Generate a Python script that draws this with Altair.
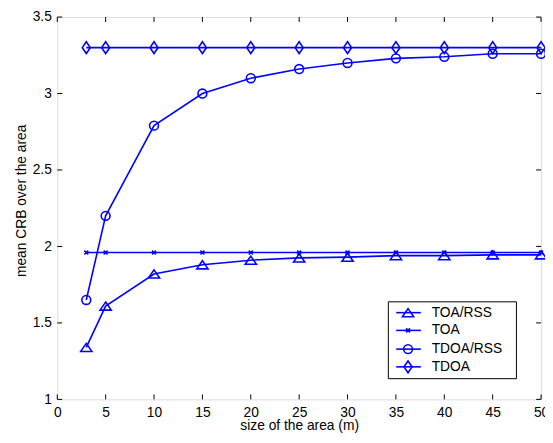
import altair as alt
import pandas as pd

# ---- data ----
sizes = [3, 5, 10, 15, 20, 25, 30, 35, 40, 45, 50]
toa_rss = [1.34, 1.61, 1.82, 1.88, 1.91, 1.925, 1.93, 1.94, 1.94, 1.945, 1.945]
toa = [1.96, 1.96, 1.96, 1.96, 1.96, 1.96, 1.96, 1.96, 1.96, 1.96, 1.96]
tdoa_rss = [1.65, 2.2, 2.79, 3.0, 3.1, 3.16, 3.2, 3.23, 3.24, 3.26, 3.26]
tdoa = [3.3, 3.3, 3.3, 3.3, 3.3, 3.3, 3.3, 3.3, 3.3, 3.3, 3.3]
series_names = ["TOA/RSS", "TOA", "TDOA/RSS", "TDOA"]
x_ticks = [0, 5, 10, 15, 20, 25, 30, 35, 40, 45, 50]
y_ticks = [1, 1.5, 2, 2.5, 3, 3.5]

# ---- styling ----
W, H = 491, 388
BLUE = "#0000FF"
FONT = "Liberation Sans"
FS = 14
shape_paths = {
    "TOA/RSS": "M0,-0.72L1,0.72L-1,0.72Z",
    "TOA": "M-1,-1L1,1M1,-1L-1,1",
    "TDOA/RSS": "circle",
    "TDOA": "M0,-1L0.68,0L0,1L-0.68,0Z",
}
shape_sizes = {"TOA/RSS": 130, "TOA": 16, "TDOA/RSS": 81, "TDOA": 144}

rows = []
for name, vals in zip(series_names, [toa_rss, toa, tdoa_rss, tdoa]):
    for s, v in zip(sizes, vals):
        rows.append({"size": s, "crb": v, "series": name})
df = pd.DataFrame(rows)

xscale = alt.Scale(domain=[0, 50], nice=False, zero=False)
yscale = alt.Scale(domain=[1, 3.5], nice=False, zero=False)

base_axis = dict(grid=False, tickSize=0, domain=False, labelFont=FONT, titleFont=FONT,
                 labelFontSize=FS, titleFontSize=FS, labelColor="black", titleColor="black",
                 titleFontWeight="normal", labelFlush=False, labelOverlap=False, labelBound=False)
xaxis = alt.Axis(values=x_ticks, title="size of the area (m)", labelPadding=6,
                 titlePadding=0, **base_axis)
yaxis = alt.Axis(values=y_ticks, title="mean CRB over the area", labelPadding=6,
                 titlePadding=4, titleY=186, format=".1~f", **base_axis)


def X(field):
    return alt.X(field, scale=xscale, axis=xaxis)


def Y(field):
    return alt.Y(field, scale=yscale, axis=yaxis)


lines = alt.Chart(df).mark_line(color=BLUE, strokeWidth=1.6).encode(
    x=X("size:Q"), y=Y("crb:Q"), detail="series:N",
)

layers = [lines]
for name in series_names:
    pts = alt.Chart(df[df.series == name]).mark_point(
        shape=shape_paths[name], size=shape_sizes[name], filled=False,
        stroke=BLUE, strokeWidth=1.6, opacity=1,
    ).encode(x=X("size:Q"), y=Y("crb:Q"))
    layers.append(pts)

# inward ticks on all four sides
xt = pd.DataFrame({"size": x_ticks})
yt = pd.DataFrame({"crb": y_ticks})
for y0, y1 in [(H, H - 5), (0, 5)]:
    layers.append(alt.Chart(xt).mark_rule(color="black", strokeWidth=1).encode(
        x=X("size:Q"), y=alt.value(y0), y2=alt.value(y1)))
for x0, x1 in [(0, 5), (W, W - 5)]:
    layers.append(alt.Chart(yt).mark_rule(color="black", strokeWidth=1).encode(
        y=Y("crb:Q"), x=alt.value(x0), x2=alt.value(x1)))

# legend box
one = pd.DataFrame({"a": [0]})
layers.append(alt.Chart(one).mark_rect(fill="white", stroke="black", strokeWidth=1).encode(
    x=alt.value(336), x2=alt.value(466), y=alt.value(289), y2=alt.value(367)))
leg_y = [300, 318, 337, 355]
for name, ly in zip(series_names, leg_y):
    ld = pd.DataFrame({"label": [name]})
    layers.append(alt.Chart(ld).mark_rule(color=BLUE, strokeWidth=1.6).encode(
        x=alt.value(344), x2=alt.value(369), y=alt.value(ly)))
    layers.append(alt.Chart(ld).mark_point(
        shape=shape_paths[name], size=shape_sizes[name], filled=False,
        stroke=BLUE, strokeWidth=1.6, opacity=1).encode(x=alt.value(356), y=alt.value(ly)))
    layers.append(alt.Chart(ld).mark_text(align="left", baseline="middle", font=FONT,
                                          fontSize=FS, color="black").encode(
        x=alt.value(380), y=alt.value(ly), text="label:N"))

chart = alt.layer(*layers).properties(
    width=W, height=H,
    autosize=alt.AutoSizeParams(type="none"),
    padding={"left": 50, "top": 6, "right": 4, "bottom": 35},
).configure_view(stroke="black", strokeWidth=1).configure(background="white")

chart.save("out.html", embed_options={"renderer": "svg", "actions": False})
